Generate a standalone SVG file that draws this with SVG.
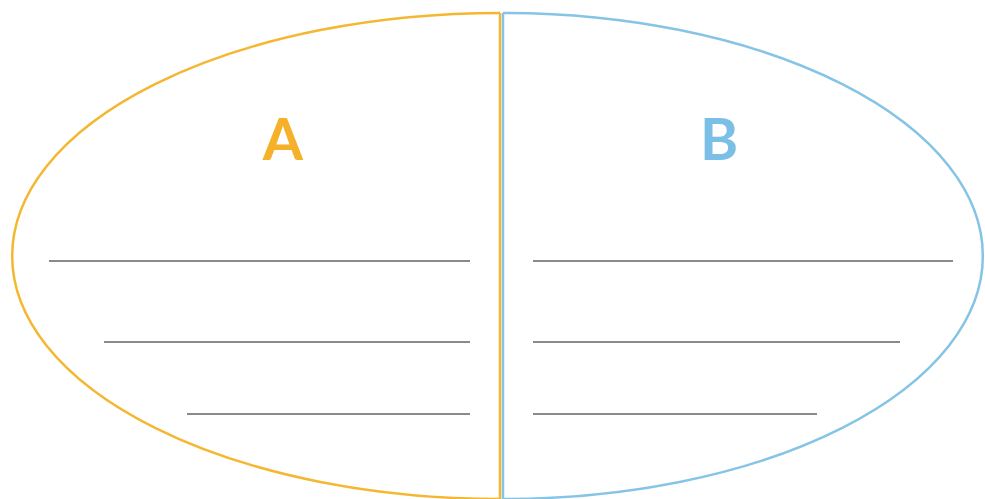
<svg xmlns="http://www.w3.org/2000/svg" width="985" height="499" viewBox="0 0 985 499">
<style>
.line{stroke:#8a8a8a;stroke-width:1.8;fill:none}
.lbl{font-family:Lato,"Open Sans","Liberation Sans",sans-serif;font-weight:bold;font-size:58px;text-anchor:middle}
</style>
<rect width="985" height="499" fill="#ffffff"/>
<g id="left-half">
<path d="M500,13 A488,243 0 0 0 500,499" fill="none" stroke="#F5B731" stroke-width="2.5"/>
<line x1="500" y1="13" x2="500" y2="499" stroke="#F5B731" stroke-width="2.5"/>
<text class="lbl" x="283" y="160" fill="#F5B12A">A</text>
<line class="line" x1="49" y1="261" x2="470" y2="261"/>
<line class="line" x1="104" y1="342" x2="470" y2="342"/>
<line class="line" x1="187" y1="414" x2="470" y2="414"/>
</g>
<g id="right-half">
<path d="M503,13 A480,243 0 0 1 503,499" fill="none" stroke="#86C4E6" stroke-width="2.5"/>
<line x1="503" y1="13" x2="503" y2="499" stroke="#86C4E6" stroke-width="2.5"/>
<text class="lbl" x="719" y="160" fill="#7BBFE6">B</text>
<line class="line" x1="533" y1="261" x2="953" y2="261"/>
<line class="line" x1="533" y1="342" x2="900" y2="342"/>
<line class="line" x1="533" y1="414" x2="817" y2="414"/>
</g>
<g id="connectors"></g>
</svg>
